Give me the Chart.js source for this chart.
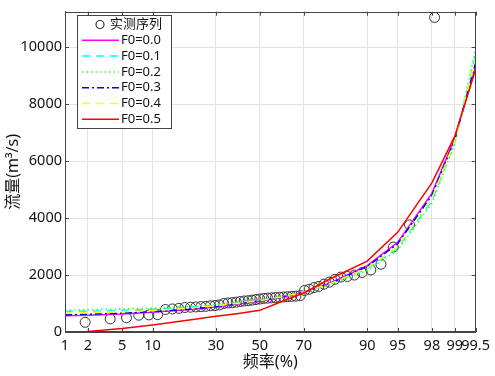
<!DOCTYPE html>
<html>
<head>
<meta charset="utf-8">
<script src="https://cdn.jsdelivr.net/npm/chart.js@4.4.0/dist/chart.umd.min.js"></script>
<style>
  html, body { margin: 0; padding: 0; background: #fff; }
</style>
</head>
<body>
<canvas id="chart" width="495" height="376"></canvas>
<script>
// ===== Data =====
// x tick positions on probability paper (%)
const tickFreq = [1, 2, 5, 10, 30, 50, 70, 90, 95, 98, 99, 99.5];
const tickLabels = ['1', '2', '5', '10', '30', '50', '70', '90', '95', '98', '99', '99.5'];
const yTicks = [0, 2000, 4000, 6000, 8000, 10000];

// observed series: plotting frequency (%) and flow (m3/s)
const obsFreq = [1.85, 3.70, 5.56, 7.41, 9.26, 11.11, 12.96, 14.81, 16.67, 18.52,
  20.37, 22.22, 24.07, 25.93, 27.78, 29.63, 31.48, 33.33, 35.19, 37.04,
  38.89, 40.74, 42.59, 44.44, 46.30, 48.15, 50.00, 51.85, 53.70, 55.56,
  57.41, 59.26, 61.11, 62.96, 64.81, 66.67, 68.52, 70.37, 72.22, 74.07,
  75.93, 77.78, 79.63, 81.48, 83.33, 85.19, 87.04, 88.89, 90.74, 92.59,
  94.44, 96.30, 98.15];
const obsFlow = [340, 460, 500, 590, 600, 610, 790, 810, 830, 860,
  870, 880, 890, 900, 920, 930, 950, 1000, 1020, 1030,
  1050, 1070, 1090, 1100, 1120, 1140, 1160, 1180, 1190, 1200,
  1210, 1220, 1230, 1240, 1250, 1260, 1280, 1460, 1500, 1560,
  1600, 1680, 1750, 1850, 1930, 1950, 2000, 2090, 2180, 2380,
  2980, 3760, 11050];

// fitted frequency curves
const fitFreq = [1, 2, 5, 10, 20, 30, 40, 50, 60, 70, 80, 90, 95, 98, 99, 99.5];
const fitF00 = [570, 590, 630, 690, 790, 880, 980, 1070, 1210, 1400, 1720, 2330, 3150, 4870, 6800, 9330];
const fitF01 = [720, 735, 760, 800, 870, 940, 1020, 1110, 1230, 1400, 1690, 2220, 2950, 4600, 6650, 9750];
const fitF02 = [770, 785, 810, 840, 900, 960, 1040, 1120, 1240, 1400, 1670, 2160, 2870, 4520, 6600, 9950];
const fitF03 = [600, 620, 660, 710, 800, 890, 990, 1090, 1220, 1400, 1710, 2300, 3100, 4800, 6750, 9450];
const fitF04 = [660, 680, 710, 750, 840, 920, 1010, 1100, 1230, 1400, 1700, 2250, 3000, 4700, 6700, 9600];
const fitF05 = [-80, 20, 120, 250, 420, 550, 650, 760, 1060, 1370, 1870, 2490, 3500, 5240, 6870, 9220];

// ===== Probability scale (normal quantile) =====
function normInv(p) {
  const a = [-39.69683028665376, 220.9460984245205, -275.9285104469687, 138.3577518672690, -30.66479806614716, 2.506628277459239];
  const b = [-54.47609879822406, 161.5858368580409, -155.6989798598866, 66.80131188771972, -13.28068155288572];
  const c = [-0.007784894002430293, -0.3223964580411365, -2.400758277161838, -2.549732539343734, 4.374664141464968, 2.938163982698783];
  const d = [0.007784695709041462, 0.3224671290700398, 2.445134137142996, 3.754408661907416];
  const pl = 0.02425;
  let q, r;
  if (p < pl) {
    q = Math.sqrt(-2 * Math.log(p));
    return (((((c[0] * q + c[1]) * q + c[2]) * q + c[3]) * q + c[4]) * q + c[5]) / ((((d[0] * q + d[1]) * q + d[2]) * q + d[3]) * q + 1);
  }
  if (p > 1 - pl) {
    q = Math.sqrt(-2 * Math.log(1 - p));
    return -(((((c[0] * q + c[1]) * q + c[2]) * q + c[3]) * q + c[4]) * q + c[5]) / ((((d[0] * q + d[1]) * q + d[2]) * q + d[3]) * q + 1);
  }
  q = p - 0.5;
  r = q * q;
  return (((((a[0] * r + a[1]) * r + a[2]) * r + a[3]) * r + a[4]) * r + a[5]) * q / (((((b[0] * r + b[1]) * r + b[2]) * r + b[3]) * r + b[4]) * r + 1);
}
const zOf = pct => normInv(pct / 100);
const toPoints = (fs, vs) => fs.map((f, i) => ({ x: zOf(f), y: vs[i] }));

const FONT = "'Noto Sans', 'Noto Sans CJK SC', sans-serif";

function curve(label, values, color, dash, order) {
  return {
    label: label,
    data: toPoints(fitFreq, values),
    showLine: true,
    borderColor: color,
    backgroundColor: color,
    borderWidth: 1.5,
    borderDash: dash,
    pointRadius: 0,
    fill: false,
    order: order
  };
}

const datasets = [
  {
    label: '实测序列',
    data: toPoints(obsFreq, obsFlow),
    showLine: false,
    pointStyle: 'circle',
    pointRadius: 5,
    borderColor: '#333',
    borderWidth: 1,
    backgroundColor: 'rgba(0,0,0,0)',
    order: 10
  },
  curve('F0=0.0', fitF00, '#ff00ff', [], 6),
  curve('F0=0.1', fitF01, '#00ffff', [8, 6], 5),
  curve('F0=0.2', fitF02, '#33ff33', [1.5, 3], 4),
  curve('F0=0.3', fitF03, '#0000ff', [7, 3, 2, 3], 3),
  curve('F0=0.4', fitF04, '#ffff00', [8, 6], 2),
  curve('F0=0.5', fitF05, '#ff0000', [], 1)
];

// ===== frame, inward ticks and legend box =====
const framePlugin = {
  id: 'frame',
  afterDraw(chart) {
    const ctx = chart.ctx;
    const a = chart.chartArea;
    const xs = chart.scales.x, ys = chart.scales.y;
    ctx.save();
    ctx.strokeStyle = '#444';
    ctx.lineWidth = 1;
    ctx.setLineDash([]);
    ctx.strokeRect(Math.round(a.left) + 0.5, Math.round(a.top) + 0.5,
      Math.round(a.right - a.left) - 1, Math.round(a.bottom - a.top) - 1);
    ctx.beginPath();
    xs.ticks.forEach(t => {
      const x = Math.round(xs.getPixelForValue(t.value)) + 0.5;
      ctx.moveTo(x, a.bottom); ctx.lineTo(x, a.bottom - 4);
      ctx.moveTo(x, a.top); ctx.lineTo(x, a.top + 4);
    });
    ys.ticks.forEach(t => {
      const y = Math.round(ys.getPixelForValue(t.value)) + 0.5;
      ctx.moveTo(a.left, y); ctx.lineTo(a.left + 4, y);
      ctx.moveTo(a.right, y); ctx.lineTo(a.right - 4, y);
    });
    ctx.stroke();

    // legend
    const bx = 77.5, by = 15.5, bw = 94, bh = 113;
    ctx.fillStyle = '#fff';
    ctx.fillRect(bx, by, bw, bh);
    ctx.strokeStyle = '#444';
    ctx.strokeRect(bx, by, bw, bh);
    ctx.font = '13px ' + FONT;
    ctx.textBaseline = 'middle';
    ctx.fillStyle = '#111';
    chart.data.datasets.forEach((ds, i) => {
      const y = 24.5 + i * 15.8;
      if (i === 0) {
        ctx.beginPath();
        ctx.setLineDash([]);
        ctx.lineWidth = 1.2;
        ctx.strokeStyle = ds.borderColor;
        ctx.arc(100, y, 4, 0, Math.PI * 2);
        ctx.stroke();
        ctx.fillText(ds.label, 110, y);
      } else {
        ctx.beginPath();
        ctx.setLineDash(ds.borderDash);
        ctx.lineWidth = 1.5;
        ctx.strokeStyle = ds.borderColor;
        ctx.moveTo(82, y); ctx.lineTo(119, y);
        ctx.stroke();
        ctx.setLineDash([]);
        ctx.fillText(ds.label, 121, y);
      }
    });
    ctx.restore();
  }
};

new Chart(document.getElementById('chart'), {
  type: 'scatter',
  data: { datasets: datasets },
  plugins: [framePlugin],
  options: {
    responsive: false,
    animation: false,
    devicePixelRatio: 1,
    layout: { padding: { top: 3, right: 14, left: 0, bottom: 0 } },
    plugins: {
      legend: { display: false },
      tooltip: { enabled: false }
    },
    scales: {
      x: {
        type: 'linear',
        min: zOf(1),
        max: zOf(99.5),
        afterBuildTicks: s => { s.ticks = tickFreq.map(f => ({ value: zOf(f) })); },
        afterFit: s => { s.height = 44; },
        grid: { color: '#e3e3e3', drawTicks: false },
        border: { color: '#444' },
        ticks: {
          autoSkip: false,
          maxRotation: 0,
          padding: 5,
          color: '#111',
          font: { family: FONT, size: 14.5 },
          callback: (v, i) => tickLabels[i]
        },
        title: {
          display: true,
          text: '频率(%)',
          color: '#111',
          font: { family: FONT, size: 16 },
          padding: { top: 0, bottom: 4 }
        }
      },
      y: {
        min: 0,
        max: 11250,
        afterBuildTicks: s => { s.ticks = yTicks.map(v => ({ value: v })); },
        afterFit: s => { s.width = 65; },
        grid: { color: '#e3e3e3', drawTicks: false },
        border: { color: '#444' },
        ticks: {
          padding: 3,
          color: '#111',
          font: { family: FONT, size: 14.5 },
          callback: v => String(v)
        },
        title: {
          display: true,
          text: '流量(m³/s)',
          color: '#111',
          font: { family: FONT, size: 16 },
          padding: { top: 4, bottom: 0 }
        }
      }
    }
  }
});
</script>
</body>
</html>
